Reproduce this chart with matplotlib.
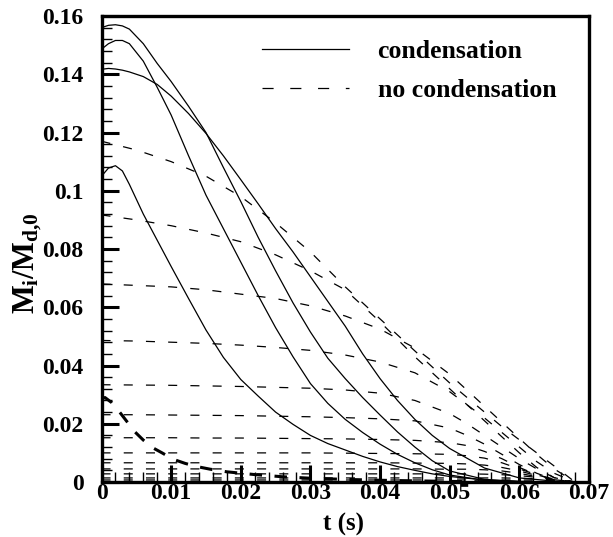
import matplotlib
matplotlib.use("Agg")
import matplotlib.pyplot as plt
from matplotlib.lines import Line2D
from matplotlib.ticker import MultipleLocator

plt.rcParams["font.family"] = ["Liberation Serif", "DejaVu Serif"]
plt.rcParams["font.weight"] = "bold"
plt.rcParams["mathtext.fontset"] = "custom"
plt.rcParams["mathtext.rm"] = "Liberation Serif:bold"
plt.rcParams["mathtext.it"] = "Liberation Serif:bold"
plt.rcParams["mathtext.bf"] = "Liberation Serif:bold"
plt.rcParams["lines.scale_dashes"] = False

# time grid of the "no condensation" curves (s)
t_nc = [0, 0.005, 0.01, 0.015, 0.02, 0.025, 0.03, 0.035, 0.04, 0.045,
        0.05, 0.0525, 0.055, 0.0575, 0.06, 0.0625, 0.065, 0.068]
nc1 = [0.117, 0.114, 0.110, 0.105, 0.098, 0.089, 0.079, 0.067, 0.056, 0.045,
       0.034, 0.029, 0.024, 0.019, 0.0145, 0.010, 0.0055, 0]
nc2 = [0.0917, 0.090, 0.088, 0.0855, 0.0825, 0.078, 0.0725, 0.066, 0.055, 0.043,
       0.032, 0.0265, 0.021, 0.0155, 0.010, 0.005, 0.0015, 0]
nc3 = [0.068, 0.0675, 0.067, 0.066, 0.0645, 0.063, 0.0605, 0.057, 0.0525, 0.046,
       0.037, 0.0315, 0.026, 0.0205, 0.015, 0.0095, 0.0045, 0]
nc4 = [0.0486, 0.0484, 0.048, 0.0476, 0.047, 0.0462, 0.0452, 0.0436, 0.0412, 0.0375,
       0.031, 0.0265, 0.022, 0.017, 0.012, 0.007, 0.003, 0]
nc5 = [0.0334, 0.0333, 0.0332, 0.033, 0.0328, 0.0325, 0.0322, 0.0316, 0.0305, 0.028,
       0.0235, 0.020, 0.016, 0.012, 0.008, 0.0045, 0.0015, 0]
nc6 = [0.0231, 0.0231, 0.023, 0.0229, 0.0228, 0.0226, 0.0224, 0.0221, 0.0217, 0.021,
       0.0185, 0.016, 0.013, 0.0095, 0.006, 0.003, 0.0008, 0]
nc7 = [0.0152, 0.0152, 0.0152, 0.0151, 0.0151, 0.015, 0.0149, 0.0148, 0.0146, 0.0143,
       0.0135, 0.0125, 0.0105, 0.008, 0.005, 0.0025, 0.0008, 0]
nc8 = [0.0100, 0.0100, 0.0100, 0.0100, 0.0100, 0.0100, 0.0100, 0.0099, 0.0098, 0.0097,
       0.0095, 0.009, 0.0082, 0.0066, 0.0045, 0.0025, 0.001, 0]
nc9 = [0.0066, 0.0066, 0.0066, 0.0066, 0.0066, 0.0066, 0.0066, 0.0066, 0.0066, 0.0065,
       0.0064, 0.0062, 0.0058, 0.005, 0.0038, 0.0022, 0.0008, 0]
nc10 = [0.0045, 0.0045, 0.0045, 0.0045, 0.0045, 0.0045, 0.0045, 0.0045, 0.0045, 0.0045,
        0.0044, 0.0044, 0.0042, 0.0038, 0.003, 0.0018, 0.0008, 0]
nc11 = [0.0028, 0.0028, 0.0028, 0.0028, 0.0028, 0.0028, 0.0028, 0.0028, 0.0028, 0.0028,
        0.0028, 0.0028, 0.0027, 0.0025, 0.0022, 0.0016, 0.0008, 0]
nc12 = [0.0014, 0.0014, 0.0014, 0.0014, 0.0014, 0.0014, 0.0014, 0.0014, 0.0014, 0.0014,
        0.0014, 0.0014, 0.0014, 0.0014, 0.0013, 0.0011, 0.0007, 0]
nc13 = [0.0007, 0.0007, 0.0007, 0.0007, 0.0007, 0.0007, 0.0007, 0.0007, 0.0007, 0.0007,
        0.0007, 0.0007, 0.0007, 0.0007, 0.0007, 0.0006, 0.0004, 0]
no_cond = [nc1, nc2, nc3, nc4, nc5, nc6, nc7, nc8, nc9, nc10, nc11, nc12, nc13]

# time grid of the "condensation" curves (s)
t_c = [0, 0.001, 0.002, 0.003, 0.004, 0.006, 0.008, 0.01, 0.0125, 0.015, 0.0175,
       0.02, 0.0225, 0.025, 0.0275, 0.03, 0.0325, 0.035, 0.0375, 0.04, 0.0425,
       0.045, 0.0475, 0.05, 0.055, 0.06, 0.065, 0.068]
cA = [0.156, 0.1568, 0.157, 0.1566, 0.1555, 0.1505, 0.1437, 0.1375, 0.129, 0.120, 0.108,
      0.0963, 0.084, 0.0725, 0.0615, 0.0515, 0.0425, 0.0355, 0.029, 0.023, 0.0172,
      0.012, 0.0073, 0.0038, 0.0009, 0.0002, 0, 0]
cB = [0.1486, 0.1505, 0.1516, 0.1516, 0.1505, 0.1445, 0.1355, 0.126, 0.112, 0.0985, 0.087,
      0.0755, 0.064, 0.053, 0.043, 0.0338, 0.027, 0.0215, 0.017, 0.013, 0.0095,
      0.0066, 0.0042, 0.0024, 0.0006, 0.0001, 0, 0]
cC = [0.1417, 0.142, 0.1418, 0.1414, 0.1408, 0.1392, 0.1365, 0.1325, 0.1265, 0.1197, 0.112,
      0.1038, 0.0955, 0.087, 0.079, 0.0705, 0.062, 0.0535, 0.044, 0.0355, 0.028,
      0.0215, 0.016, 0.0115, 0.0048, 0.0014, 0.0003, 0]
cD = [0.105, 0.1078, 0.1086, 0.1068, 0.1022, 0.092, 0.083, 0.074, 0.063, 0.0522, 0.0428,
      0.0352, 0.0295, 0.024, 0.0198, 0.016, 0.0132, 0.011, 0.0088, 0.0069, 0.0053,
      0.004, 0.0028, 0.0019, 0.0007, 0.0002, 0, 0]
cond = [cA, cB, cC, cD]

# smallest bin, heavy dashes
t_e = [0, 0.0005, 0.0015, 0.0027, 0.0037, 0.0048, 0.006, 0.0074, 0.0087, 0.0103,
       0.012, 0.0137, 0.0156, 0.018, 0.0218, 0.026, 0.03, 0.035, 0.04, 0.045,
       0.05, 0.055]
e_small = [0.0285, 0.029, 0.0272, 0.0237, 0.0206, 0.0172, 0.0144, 0.0117, 0.010, 0.0078,
           0.0064, 0.0053, 0.0044, 0.0035, 0.0026, 0.0018, 0.0013, 0.0009, 0.0006, 0.0004,
           0.0002, 0.0001]

dash = (0, (6.5, 9.5))

fig = plt.figure(figsize=(6.13, 5.37), dpi=100)
ax = fig.add_axes([0.1656, 0.1024, 0.7952, 0.8678])

for v in no_cond:
    ax.plot(t_nc, v, color="black", lw=0.9, linestyle=dash)
for v in cond:
    ax.plot(t_c, v, color="black", lw=0.9)
ax.plot(t_e, e_small, color="black", lw=2.2, linestyle=(0, (9, 9)))

ax.set_xlim(0, 0.07)
ax.set_ylim(0, 0.16)
ax.xaxis.set_minor_locator(MultipleLocator(0.002))
ax.yaxis.set_minor_locator(MultipleLocator(0.004))
ax.set_xticks([0, 0.01, 0.02, 0.03, 0.04, 0.05, 0.06, 0.07])
ax.set_xticklabels(["0", "0.01", "0.02", "0.03", "0.04", "0.05", "0.06", "0.07"])
ax.set_yticks([0, 0.02, 0.04, 0.06, 0.08, 0.1, 0.12, 0.14, 0.16])
ax.set_yticklabels(["0", "0.02", "0.04", "0.06", "0.08", "0.1", "0.12", "0.14", "0.16"])

ax.tick_params(which="major", direction="in", length=12, width=2.2, labelsize=17)
ax.tick_params(which="minor", direction="in", length=7, width=1)
ax.tick_params(axis="x", which="both", pad=1)
ax.tick_params(axis="y", which="both", pad=13)
for s in ax.spines.values():
    s.set_linewidth(2.4)
    s.set_zorder(5)

ax.set_xlabel("t (s)", fontsize=18, fontweight="bold")
ax.set_ylabel(r"$M_i/M_{d{,}0}$", fontsize=22)
ax.xaxis.set_label_coords(0.497, -0.066)
ax.yaxis.set_label_coords(-0.118, 0.47)

handles = [Line2D([], [], color="black", lw=0.9),
           Line2D([], [], color="black", lw=0.9, linestyle=(0, (8, 12)))]
ax.legend(handles, ["condensation", "no condensation"], loc="upper left",
          bbox_to_anchor=(0.329, 0.948), frameon=False, fontsize=18.5,
          handlelength=3.4, handletextpad=1.1, labelspacing=0.6,
          borderpad=0, borderaxespad=0)

fig.savefig("out.png", dpi=100)
